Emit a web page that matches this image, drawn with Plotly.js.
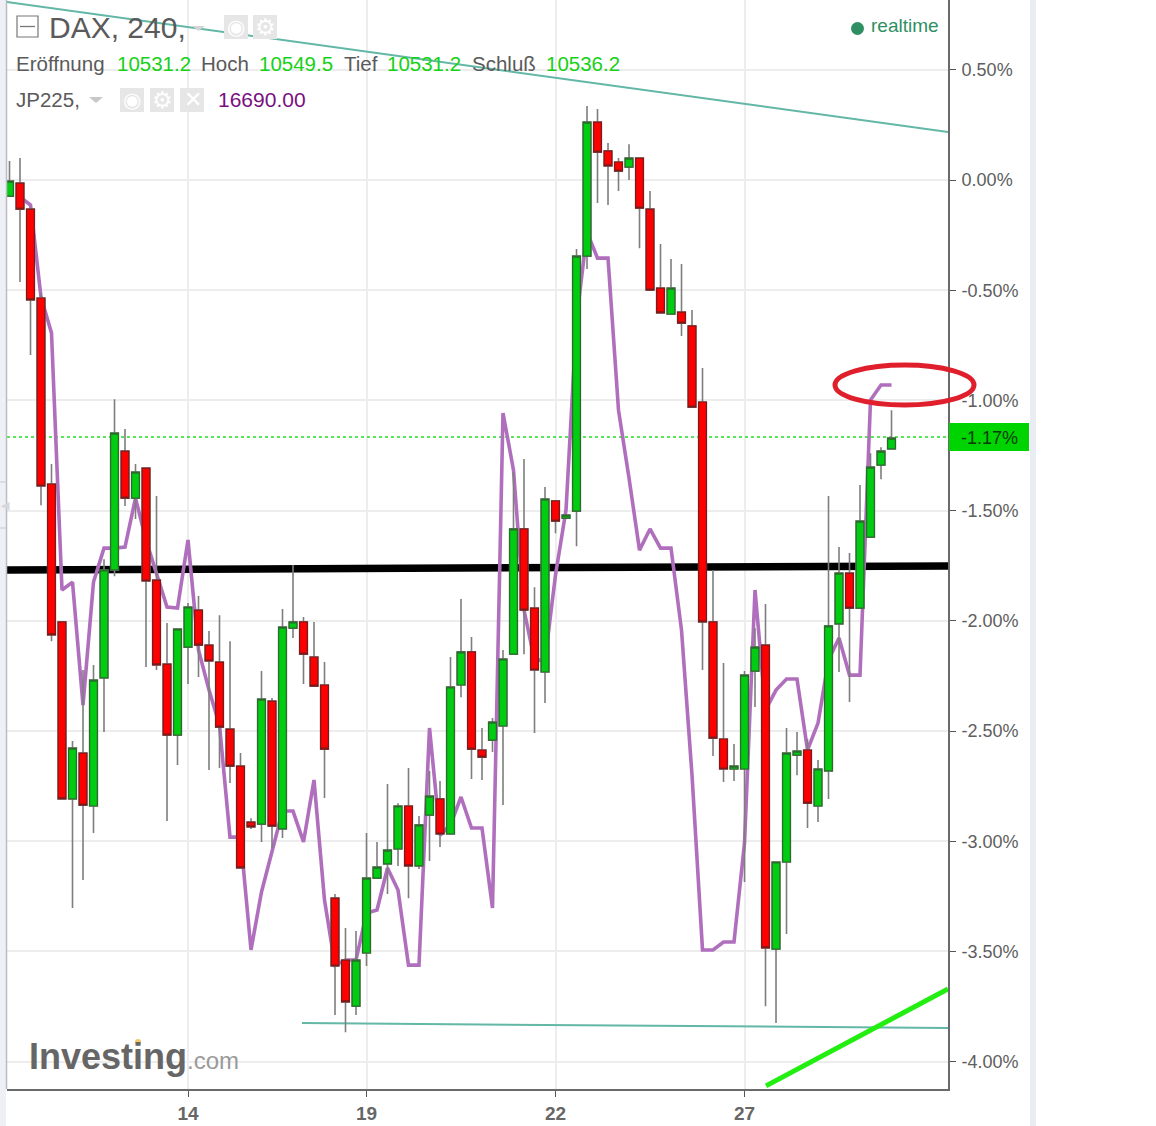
<!DOCTYPE html>
<html><head><meta charset="utf-8">
<script src="https://cdn.plot.ly/plotly-3.0.1.min.js"></script>
<style>html,body{margin:0;padding:0;background:#fff}#c{width:1156px;height:1126px}</style>
</head><body><div id="c"></div>
<script>
// DAX 4-hour candles, percent change
var candleOpen=[-.073,-.014,-.132,-.535,-1.379,-2.005,-2.808,-2.600,-2.840,-2.259,-1.769,-1.230,-1.443,-1.307,-1.815,-2.196,-2.518,-2.119,-1.951,-2.110,-2.187,-2.491,-2.659,-2.913,-2.922,-2.364,-2.944,-2.033,-2.005,-2.164,-2.291,-3.258,-3.539,-3.748,-3.507,-3.167,-3.103,-3.035,-2.840,-3.112,-2.881,-2.808,-2.967,-2.291,-2.141,-2.586,-2.541,-2.477,-2.151,-1.583,-1.942,-2.232,-1.456,-1.534,-1.502,-.345,.263,.132,.082,.059,.100,-.132,-.490,-.608,-.599,-.662,-1.007,-2.005,-2.536,-2.672,-2.672,-2.228,-2.110,-3.489,-3.094,-2.609,-2.586,-2.840,-2.681,-2.014,-1.783,-1.942,-1.620,-1.293,-1.220];
var candleHigh=[.086,.100,-.132,-.513,-1.288,-2.005,-2.545,-2.223,-2.200,-1.720,-.994,-1.130,-1.288,-1.307,-1.434,-2.010,-2.037,-1.919,-1.887,-2.046,-1.974,-2.092,-2.600,-2.895,-2.228,-2.350,-1.946,-1.747,-1.983,-2.005,-2.187,-3.239,-3.394,-3.407,-2.963,-3.003,-2.740,-2.827,-2.668,-2.885,-2.681,-2.727,-2.164,-1.901,-2.073,-2.486,-2.441,-2.132,-1.325,-1.266,-1.847,-1.393,-1.456,-1.520,-.313,.336,.322,.168,.100,.163,.100,-.050,-.290,-.358,-.381,-.590,-.853,-1.769,-2.191,-2.559,-2.228,-2.033,-1.924,-3.094,-2.486,-2.504,-2.536,-2.631,-1.434,-1.665,-1.692,-1.384,-1.239,-1.212,-1.044];
var candleLow=[-.077,-.463,-.794,-1.475,-2.092,-2.808,-3.303,-3.176,-2.963,-2.504,-1.797,-1.479,-1.538,-2.209,-2.223,-2.908,-2.654,-2.287,-2.255,-2.677,-2.668,-2.736,-3.121,-2.944,-3.003,-3.031,-2.985,-2.078,-2.287,-2.296,-2.804,-3.788,-3.866,-3.788,-3.566,-3.167,-3.239,-3.112,-3.258,-3.126,-3.090,-3.026,-2.972,-2.346,-2.718,-2.722,-2.595,-2.836,-2.151,-2.151,-2.509,-2.373,-1.602,-1.534,-1.661,-.404,-.104,-.113,-.050,0,-.309,-.499,-.603,-.608,-.708,-1.030,-2.223,-2.613,-2.731,-2.727,-3.185,-2.391,-3.748,-3.825,-3.421,-2.700,-2.940,-2.913,-2.808,-2.232,-2.368,-1.942,-1.620,-1.357,-1.220];
var candleClose=[-.005,-.132,-.544,-1.388,-2.064,-2.808,-2.577,-2.836,-2.269,-1.769,-1.148,-1.443,-1.325,-1.819,-2.200,-2.518,-2.037,-1.937,-2.110,-2.182,-2.482,-2.659,-3.121,-2.935,-2.355,-2.931,-2.028,-2.005,-2.151,-2.296,-2.582,-3.566,-3.729,-3.539,-3.167,-3.117,-3.040,-2.840,-3.112,-2.926,-2.795,-2.967,-2.300,-2.141,-2.582,-2.618,-2.459,-2.173,-1.583,-1.951,-2.223,-1.447,-1.547,-1.520,-.345,.263,.127,.064,.041,.100,-.127,-.499,-.603,-.490,-.649,-1.030,-2.005,-2.532,-2.672,-2.659,-2.246,-2.119,-3.484,-3.094,-2.600,-2.591,-2.827,-2.672,-2.023,-1.783,-1.942,-1.547,-1.302,-1.230,-1.171];
// JP225 comparison line, percent change
var jp225=[null,-.077,-.113,-.531,-.694,-1.860,-1.824,-2.382,-1.824,-1.670,-1.670,-1.665,-1.443,-1.633,-1.783,-1.937,-1.942,-1.633,-2.132,-2.314,-2.473,-2.981,-2.981,-3.493,-3.230,-3.040,-2.863,-2.863,-3.003,-2.722,-3.267,-3.562,-3.539,-3.539,-3.326,-3.312,-3.121,-3.221,-3.562,-3.562,-2.486,-2.972,-2.926,-2.799,-2.940,-2.940,-3.303,-1.057,-1.316,-1.951,-2.178,-2.178,-1.792,-1.497,-.635,-.236,-.354,-.354,-1.044,-1.352,-1.679,-1.583,-1.670,-1.670,-2.042,-2.700,-3.493,-3.493,-3.457,-3.457,-3.008,-1.860,-2.405,-2.314,-2.264,-2.264,-2.586,-2.464,-2.178,-2.078,-2.246,-2.246,-.998,-.930,-.930];
var yTickVals=[.5,0,-.5,-1,-1.5,-2,-2.5,-3,-3.5,-4];
var yTickText=['0.50%','0.00%','-0.50%','-1.00%','-1.50%','-2.00%','-2.50%','-3.00%','-3.50%','-4.00%'];
var xTickVals=[17,34,52,70];
var xTickText=['<b>14</b>','<b>19</b>','<b>22</b>','<b>27</b>'];
var upperTrendX=[-.238,89.38], upperTrendY=[.808,.218];
var lowerTrendX=[27.86,89.38], lowerTrendY=[-3.825,-3.847];
var greenTrendX=[72.05,89.38], greenTrendY=[-4.11,-3.67];
var blackLineX=[-.238,89.38], blackLineY=[-1.769,-1.751];
var lastPctX=[-.238,89.38], lastPctY=[-1.166,-1.166];
var xRange=[-.238,89.38], yRange=[-4.124,.817];

var idx=candleOpen.map(function(_,i){return i;});
var bodyHigh=candleOpen.map(function(o,i){return Math.max(o,candleClose[i]);});
var bodyLow=candleOpen.map(function(o,i){return Math.min(o,candleClose[i]);});
var W=1156,H=1126,L=7,R=948,T=0,B=1089;
function px(x){return (x-L)/(R-L);}
function py(y){return (B-y)/(B-T);}
function line(x,y,c,w,dash){return {type:'scatter',mode:'lines',x:x,y:y,line:{color:c,width:w,dash:dash||'solid'},hoverinfo:'skip',showlegend:false,xaxis:'x',yaxis:'y',connectgaps:false};}
var traces=[
 line(lastPctX,lastPctY,'#22dd22',1.6,'3px,3px'),
 line(upperTrendX,upperTrendY,'#62b7a6',2),
 line(lowerTrendX,lowerTrendY,'#62b7a6',2),
 line(blackLineX,blackLineY,'#000000',7.5),
 line(greenTrendX,greenTrendY,'#22ee11',5),
 line(idx,jp225,'#b06fbd',3.6),
 {type:'candlestick',x:idx,open:candleOpen,high:candleHigh,low:candleLow,close:candleClose,xaxis:'x2',yaxis:'y2',showlegend:false,hoverinfo:'skip',whiskerwidth:0,
  increasing:{line:{color:'#7e7e7e',width:1.6},fillcolor:'#00cc11'},decreasing:{line:{color:'#7e7e7e',width:1.6},fillcolor:'#ff0000'}},
 {type:'candlestick',x:idx,open:candleOpen,high:bodyHigh,low:bodyLow,close:candleClose,xaxis:'x2',yaxis:'y2',showlegend:false,hoverinfo:'skip',whiskerwidth:0,
  increasing:{line:{color:'#2b6b2b',width:1.2},fillcolor:'#00cc11'},decreasing:{line:{color:'#7c1a1a',width:1.2},fillcolor:'#ff0000'}}
];
var FONT='"Liberation Sans",Arial,sans-serif';
function label(text,x,y,size,color,extra){var a={text:text,xref:'paper',yref:'paper',x:px(x-2),y:py(y),xanchor:'left',yanchor:'middle',showarrow:false,font:{family:FONT,size:size,color:color}};for(var k in (extra||{}))a[k]=extra[k];return a;}
var grey='#5a5a5a',lime='#17d117';
function icon(text,x,y,size){return {text:text,xref:'paper',yref:'paper',x:px(x),y:py(y),xanchor:'center',yanchor:'middle',showarrow:false,font:{family:'"DejaVu Sans"',size:size,color:'#ffffff'}};}
var annotations=[
 label('DAX, 240,',49,28,30,grey),
 label('Eröffnung',16,64,20.5,grey),label('10531.2',117,64,20.5,lime),
 label('Hoch',201,64,20.5,grey),label('10549.5',259,64,20.5,lime),
 label('Tief',344,64,20.5,grey),label('10531.2',387,64,20.5,lime),
 label('Schluß',472,64,20.5,grey),label('10536.2',546,64,20.5,lime),
 label('JP225,',16,100,20.5,grey),label('16690.00',218,100,21,'#7a0f80'),
 label('realtime',871,26,19,'#2f8f63'),
 label('<b>Investing</b>',29,1056,36,'#666666'),
 label('.com',187,1060,24,'#9a9a9a'),
 label('-1.17%',961,438,18,'#0a3a0a'),
 icon('◉',236,27,21),icon('⚙',265,27,23),
 icon('◉',132,100,21),icon('⚙',162,100,23),icon('✕',193,100,22),
 label('◀',1,505,11,'#d5d7dc')
];
function rect(x0,y0,x1,y1,fill,lc,lw,layer){return {type:'rect',xref:'paper',yref:'paper',x0:px(x0),x1:px(x1),y0:py(y0),y1:py(y1),fillcolor:fill,line:{color:lc||fill,width:lw||0},layer:layer||'above'};}
function tri(x,y,w,h,c){return {type:'path',xref:'paper',yref:'paper',path:'M '+px(x)+' '+py(y)+' L '+px(x+w)+' '+py(y)+' L '+px(x+w/2)+' '+py(y+h)+' Z',fillcolor:c,line:{width:0},layer:'above'};}
function seg(x0,y0,x1,y1,c,w){return {type:'line',xref:'paper',yref:'paper',x0:px(x0),x1:px(x1),y0:py(y0),y1:py(y1),line:{color:c,width:w},layer:'above'};}
var shapes=[
 rect(0,0,6,1126,'#eef0f5'),
 seg(6.5,0,6.5,1089,'#b9bcc2',1.5),
 seg(0,482,6,482,'#c8cad0',1),seg(0,528,6,528,'#c8cad0',1),
 rect(1030,0,1036,1126,'#e9ecf2'),
 rect(949,423,1029,451,'#00d400'),
 rect(17,16,38,37,'rgba(0,0,0,0)','#777777',1.2),
 seg(20,26.5,35,26.5,'#777777',1.3),
 tri(192,26,13,5,'#d4d4d4'),
 rect(224,15,248,39,'#e6e6e6'),rect(253,15,277,39,'#e6e6e6'),
 tri(89,97,14,6,'#c8c8c8'),
 rect(120,88,144,112,'#e6e6e6'),rect(150,88,174,112,'#e6e6e6'),rect(180,88,204,112,'#e6e6e6'),
 {type:'circle',xref:'paper',yref:'paper',x0:px(851),x1:px(864),y0:py(35),y1:py(22),fillcolor:'#2f8f63',line:{width:0},layer:'above'},
 {type:'circle',xref:'paper',yref:'paper',x0:px(135),x1:px(141),y0:py(1045),y1:py(1039),fillcolor:'#f6c46a',line:{width:0},layer:'above'},
 {type:'circle',xref:'paper',yref:'paper',x0:px(835),x1:px(974),y0:py(405),y1:py(365),fillcolor:'rgba(0,0,0,0)',line:{color:'#e01f2d',width:5},layer:'above'}
];
var layout={width:W,height:H,autosize:false,paper_bgcolor:'#ffffff',plot_bgcolor:'#ffffff',showlegend:false,
 margin:{l:L,r:W-R,t:T,b:H-B,pad:0},boxgap:.26,boxgroupgap:0,boxmode:'overlay',
 font:{family:FONT},
 xaxis:{type:'linear',range:xRange,tickmode:'array',tickvals:xTickVals,ticktext:xTickText,showgrid:true,gridcolor:'#ededed',gridwidth:2,zeroline:false,
  showline:true,linecolor:'#6a6a6a',linewidth:2,ticks:'outside',ticklen:6,tickcolor:'#555',tickfont:{family:FONT,size:19,color:'#666666'},rangeslider:{visible:false},fixedrange:true},
 yaxis:{type:'linear',range:yRange,side:'right',tickmode:'array',tickvals:yTickVals,ticktext:yTickText,showgrid:true,gridcolor:'#ededed',gridwidth:2,zeroline:false,
  showline:true,linecolor:'#6a6a6a',linewidth:2,ticks:'outside',ticklen:6,tickcolor:'#555',ticklabelstandoff:2,tickfont:{family:FONT,size:18,color:'#5e5e5e'},fixedrange:true},
 xaxis2:{type:'linear',overlaying:'x',range:xRange,visible:false,rangeslider:{visible:false},fixedrange:true},
 yaxis2:{type:'linear',overlaying:'y',range:yRange,visible:false,fixedrange:true},
 annotations:annotations,shapes:shapes};
Plotly.newPlot('c',traces,layout,{staticPlot:true,displayModeBar:false});
</script></body></html>
